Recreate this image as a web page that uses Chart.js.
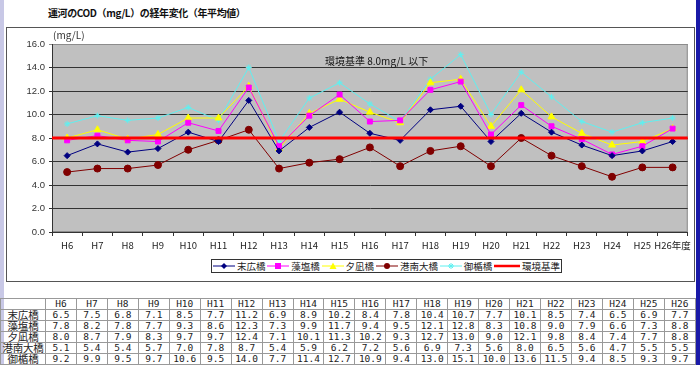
<!DOCTYPE html>
<html>
<head>
<meta charset="utf-8">
<script src="https://cdn.jsdelivr.net/npm/chart.js@4.4.1/dist/chart.umd.min.js"></script>
<style>
  html,body{margin:0;padding:0;background:#fff;}
  body{width:700px;height:365px;position:relative;overflow:hidden;font-family:"Noto Sans CJK JP","Noto Sans",sans-serif;}
  #lstrip{position:absolute;left:0;top:0;width:4px;height:365px;background:#c8c8e6;}
  #rstrip{position:absolute;left:696px;top:0;width:4px;height:365px;background:#1a1aa8;}
  #title{position:absolute;left:48px;top:5px;font-size:10px;font-weight:bold;color:#111;letter-spacing:-0.4px;}
  #frame{position:absolute;left:6px;top:27px;width:689px;height:255px;border:1px solid #555;box-sizing:border-box;}
  #wrap{position:absolute;left:7px;top:28px;width:688px;height:254px;}
  #legend{position:absolute;left:211px;top:259px;width:351px;height:14px;border:1px solid #333;box-sizing:border-box;
    display:flex;align-items:center;justify-content:space-around;font-size:9.5px;color:#222;background:#fff;}
  #legend span.it{display:flex;align-items:center;}
  #legend svg{margin-right:2px;}
  #tbl{position:absolute;left:0;top:298px;border-collapse:collapse;table-layout:fixed;width:696px;color:#222;}
  #tbl td{border:1px solid #999;padding:0;text-align:center;white-space:nowrap;overflow:hidden;vertical-align:top;height:10px;line-height:10px;}
  #tbl td div{display:block;height:10px;line-height:10px;overflow:hidden;
    font-family:"DejaVu Sans Mono","Noto Sans CJK JP",monospace;font-size:9.5px;}
  #tbl td.lab div{font-family:"Noto Sans CJK JP",sans-serif;font-size:10.5px;line-height:10px;letter-spacing:-0.2px;}
</style>
</head>
<body>
<div id="lstrip"></div>
<div id="rstrip"></div>
<div id="title">運河のCOD（mg/L）の経年変化（年平均値）</div>
<div id="frame"></div>
<div id="wrap"><canvas id="c" width="688" height="254"></canvas></div>
<div id="legend"></div>
<table id="tbl"></table>
<script>
const years = ['H6','H7','H8','H9','H10','H11','H12','H13','H14','H15','H16','H17','H18','H19','H20','H21','H22','H23','H24','H25','H26'];
const xLabels = years.map((y,i)=>i===years.length-1 ? y+'年度' : y);
const suehiro = [6.5,7.5,6.8,7.1,8.5,7.7,11.2,6.9,8.9,10.2,8.4,7.8,10.4,10.7,7.7,10.1,8.5,7.4,6.5,6.9,7.7];
const moshio  = [7.8,8.2,7.8,7.7,9.3,8.6,12.3,7.3,9.9,11.7,9.4,9.5,12.1,12.8,8.3,10.8,9.0,7.9,6.6,7.3,8.8];
const yunagi  = [8.0,8.7,7.9,8.3,9.7,9.7,12.4,7.1,10.1,11.3,10.2,9.3,12.7,13.0,9.0,12.1,9.8,8.4,7.4,7.7,8.8];
const konan   = [5.1,5.4,5.4,5.7,7.0,7.8,8.7,5.4,5.9,6.2,7.2,5.6,6.9,7.3,5.6,8.0,6.5,5.6,4.7,5.5,5.5];
const mitate  = [9.2,9.9,9.5,9.7,10.6,9.5,14.0,7.7,11.4,12.7,10.9,9.4,13.0,15.1,10.0,13.6,11.5,9.4,8.5,9.3,9.7];
const seriesNames = ['末広橋','藻塩橋','夕凪橋','港南大橋','御楯橋'];
const STANDARD = 8.0;
const standardName = '環境基準';
const yTicks = [0,2,4,6,8,10,12,14,16];

const seriesData = [suehiro, moshio, yunagi, konan, mitate];
const colors = ['#000080','#ff00ff','#ffff00','#800000','#5ff0f0'];
const styles = ['rectRot','rect','triangle','circle','star'];
const radii = [3,3.5,4,3.5,3];
const stdColor = '#ff0000';

const datasets = seriesData.map((d,i)=>({
  label: seriesNames[i], data: d, borderColor: colors[i], backgroundColor: colors[i],
  borderWidth: 1, pointStyle: styles[i], pointRadius: radii[i], pointBorderWidth: 1,
  tension: 0, fill: false
}));

const bgPlugin = {
  id:'bg',
  beforeDraw(chart){
    const {ctx, chartArea:a} = chart;
    ctx.save();
    ctx.fillStyle = '#c0c0c0';
    ctx.fillRect(a.left, a.top, a.right-a.left, a.bottom-a.top);
    ctx.strokeStyle = '#8c8c8c';
    ctx.lineWidth = 1;
    ctx.strokeRect(a.left+0.5, a.top+0.5, a.right-a.left-1, a.bottom-a.top-1);
    ctx.restore();
  },
  afterDatasetsDraw(chart){
    const {ctx, chartArea:a, scales} = chart;
    const y = scales.y.getPixelForValue(STANDARD);
    ctx.save();
    ctx.strokeStyle = stdColor;
    ctx.lineWidth = 3;
    ctx.beginPath();
    ctx.moveTo(a.left, y); ctx.lineTo(a.right, y);
    ctx.stroke();
    ctx.fillStyle = '#111';
    ctx.font = '10px "Noto Sans CJK JP"';
    ctx.textBaseline = 'middle';
    ctx.fillText(standardName+' '+STANDARD.toFixed(1)+'mg/L 以下', a.left+273, a.top+17);
    ctx.fillStyle = '#333';
    ctx.fillText('(mg/L)', a.left+1, a.top-9);
    ctx.restore();
  }
};

new Chart(document.getElementById('c'), {
  type:'line',
  data:{labels:xLabels, datasets:datasets},
  options:{
    responsive:false, animation:false, devicePixelRatio:1,
    layout:{padding:{left:0, top:16, right:7, bottom:30}},
    plugins:{legend:{display:false}, tooltip:{enabled:false}},
    scales:{
      x:{
        offset:true,
        grid:{offset:true, drawOnChartArea:false, drawTicks:true, tickLength:4, color:'#333'},
        border:{color:'#333'},
        ticks:{color:'#222', font:{size:9.5, family:'"Noto Sans CJK JP"'}, maxRotation:0, autoSkip:false, padding:4},
        afterFit(s){ s.height = 20; }
      },
      y:{
        min:0, max:16,
        afterBuildTicks(s){ s.ticks = yTicks.map(v=>({value:v})); },
        grid:{color:c=>c.tick && c.tick.value===16 ? '#8c8c8c' : '#333', tickLength:3, lineWidth:1},
        border:{color:'#333'},
        ticks:{color:'#333', font:{size:9.5, family:'"Liberation Sans"'}, padding:4, callback:v=>Number(v).toFixed(1)},
        afterFit(s){ s.width = 45; }
      }
    }
  },
  plugins:[bgPlugin]
});

// legend
function markerSvg(i){
  const c = colors[i];
  let m = '';
  if(styles[i]==='rectRot') m = `<polygon points="11,1 14,4 11,7 8,4" fill="${c}"/>`;
  else if(styles[i]==='rect') m = `<rect x="8" y="1" width="6" height="6" fill="${c}"/>`;
  else if(styles[i]==='triangle') m = `<polygon points="11,0.5 14.5,7 7.5,7" fill="${c}"/>`;
  else if(styles[i]==='circle') m = `<circle cx="11" cy="4" r="3" fill="${c}"/>`;
  else m = `<path d="M8,4 H14 M11,1 V7 M9,2 L13,6 M13,2 L9,6" stroke="${c}" stroke-width="1"/>`;
  return `<svg width="22" height="8"><line x1="0" y1="4" x2="22" y2="4" stroke="${c}" stroke-width="1"/>${m}</svg>`;
}
const leg = document.getElementById('legend');
let html = seriesNames.map((n,i)=>`<span class="it">${markerSvg(i)}${n}</span>`).join('');
html += `<span class="it"><svg width="26" height="8"><line x1="0" y1="4" x2="26" y2="4" stroke="${stdColor}" stroke-width="2.5"/></svg>${standardName}</span>`;
leg.innerHTML = html;

// table
const tbl = document.getElementById('tbl');
let rows = '<colgroup><col style="width:45px">' + years.map(()=>'<col>').join('') + '</colgroup>';
rows += '<tr><td class="lab"><div></div></td>' + years.map(y=>`<td><div>${y}</div></td>`).join('') + '</tr>';
seriesData.forEach((d,i)=>{
  rows += `<tr><td class="lab"><div>${seriesNames[i]}</div></td>` + d.map(v=>`<td><div>${v.toFixed(1)}</div></td>`).join('') + '</tr>';
});
tbl.innerHTML = rows;
</script>
</body>
</html>
